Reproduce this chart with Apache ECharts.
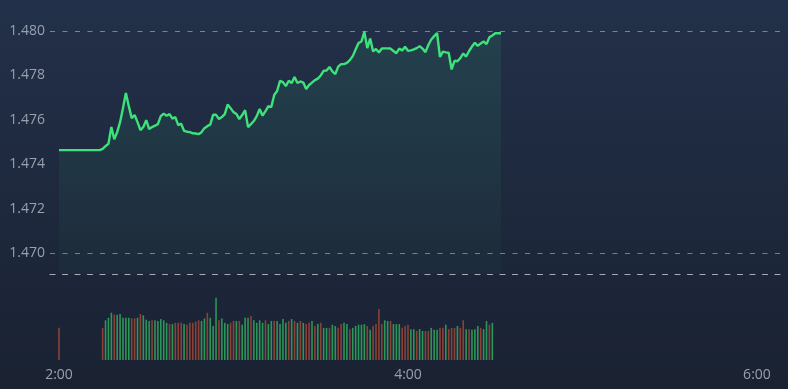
<!DOCTYPE html>
<html>
<head>
<meta charset="utf-8">
<script src="https://cdn.jsdelivr.net/npm/echarts@6/dist/echarts.min.js"></script>
<style>
html,body{margin:0;padding:0;background:#1d2638;}
#chart{width:788px;height:389px;}
</style>
</head>
<body>
<div id="chart"></div>
<script>
// ---- data ----
const startMinute = 120; // 2:00, one point per minute
const prices = [
  1.47464,1.47464,1.47464,1.47464,1.47464,1.47464,1.47464,1.47464,1.47464,1.47464,
  1.47464,1.47464,1.47464,1.47464,1.47464,1.47470,1.47482,1.47493,1.47568,1.47513,
  1.47545,1.47590,1.47653,1.47721,1.47662,1.47608,1.47622,1.47590,1.47554,1.47568,
  1.47599,1.47559,1.47568,1.47574,1.47581,1.47617,1.47628,1.47619,1.47626,1.47606,
  1.47613,1.47577,1.47583,1.47551,1.47547,1.47545,1.47540,1.47539,1.47536,1.47545,
  1.47563,1.47572,1.47579,1.47623,1.47623,1.47604,1.47613,1.47626,1.47669,1.47653,
  1.47635,1.47627,1.47604,1.47622,1.47644,1.47568,1.47581,1.47595,1.47617,1.47649,
  1.47619,1.47640,1.47662,1.47658,1.47712,1.47730,1.47776,1.47770,1.47752,1.47776,
  1.47766,1.47793,1.47766,1.47773,1.47768,1.47739,1.47757,1.47768,1.47779,1.47786,
  1.47800,1.47821,1.47822,1.47838,1.47818,1.47806,1.47840,1.47851,1.47851,1.47857,
  1.47869,1.47887,1.47917,1.47946,1.47953,1.47996,1.47923,1.47966,1.47908,1.47919,
  1.47903,1.47921,1.47922,1.47922,1.47921,1.47910,1.47900,1.47921,1.47912,1.47929,
  1.47911,1.47913,1.47917,1.47923,1.47932,1.47921,1.47905,1.47937,1.47962,1.47977,
  1.47991,1.47883,1.47907,1.47904,1.47902,1.47827,1.47866,1.47864,1.47878,1.47899,
  1.47885,1.47910,1.47930,1.47947,1.47933,1.47944,1.47953,1.47941,1.47972,1.47980,
  1.47990,1.47990,1.47990
];
const volumes = [
  51,null,null,null,null,null,null,null,null,null,
  null,null,null,null,null,51,63,67,75,72,
  72,73,67,67,67,66,66,67,73,71,
  64,62,63,63,62,65,63,59,57,57,
  59,59,59,57,56,59,59,61,63,62,
  66,75,67,54,99,63,66,59,57,59,
  62,62,62,56,67,67,70,63,59,63,
  59,63,57,62,62,62,57,65,59,62,
  65,62,59,62,59,57,59,62,54,57,
  59,51,51,51,56,54,51,57,59,57,
  49,51,54,56,56,57,54,48,54,57,
  81,57,63,62,62,57,57,57,51,54,
  56,49,49,46,49,46,46,46,51,48,
  48,51,51,56,49,51,51,54,51,63,
  49,49,48,49,54,51,49,62,56,59,
  null,null,null
];
// u = up (green), d = down (red), one flag per minute
const volDirs = "d..............duuudu" + "uuuuddudu" + "uuduuuuudu" + "dddudddddu" + "uduuudu" + "uudduduuud" + "uuuudu" + "uduuuudud" + "ududdudud" + "uuduudduud" + "uuuuududdd" + "duuduuuddd" + "uuduudduuu" + "dduddduddu" + "duuuduudu" + "u...";
const yTicks = [1.470, 1.472, 1.474, 1.476, 1.478, 1.480];
const xTicks = [120, 240, 360];

// ---- build ----
const priceData = prices.map((v, i) => [startMinute + i, v]);
const volData = volumes.map((v, i) => ({
  value: [startMinute + i, v],
  itemStyle: { color: volDirs[i] === 'd' ? '#8c4137' : '#2b9659' }
}));
const fmtTime = v => Math.floor(v / 60) + ':' + String(Math.round(v % 60)).padStart(2, '0');

const chart = echarts.init(document.getElementById('chart'));
const xMin = 116.905, xMax = 367.92;
const fontFamily = '"Open Sans", "Noto Sans", sans-serif';
chart.setOption({
  animation: false,
  backgroundColor: new echarts.graphic.LinearGradient(0, 0, 0, 1, [
    { offset: 0, color: '#223049' },
    { offset: 1, color: '#1a2232' }
  ]),
  grid: [
    { left: 50, right: 8, top: 31, bottom: 115 },
    { left: 50, right: 8, top: 297, bottom: 29 }
  ],
  xAxis: [
    {
      type: 'value', gridIndex: 0, min: xMin, max: xMax,
      axisLine: { show: true, lineStyle: { color: 'rgba(220,224,232,0.72)', width: 1.2, type: [5, 7.5] } },
      axisTick: { show: false }, axisLabel: { show: false }, splitLine: { show: false }
    },
    {
      type: 'value', gridIndex: 1, min: xMin, max: xMax,
      axisLine: { show: false }, axisTick: { show: false }, splitLine: { show: false },
      axisLabel: {
        customValues: xTicks, formatter: fmtTime, color: '#9aa1ad',
        fontSize: 14, fontFamily: fontFamily, margin: 8
      }
    }
  ],
  yAxis: [
    {
      type: 'value', gridIndex: 0, min: 1.46907, max: 1.480,
      axisLine: { show: false }, axisTick: { show: false }, splitLine: { show: false },
      axisLabel: {
        customValues: yTicks, formatter: v => v.toFixed(3), color: '#9aa1ad',
        fontSize: 14, fontFamily: fontFamily, margin: 5
      }
    },
    {
      type: 'value', gridIndex: 1, min: 0, max: 100,
      axisLine: { show: false }, axisTick: { show: false }, splitLine: { show: false },
      axisLabel: { show: false }
    }
  ],
  series: [
    {
      type: 'line', xAxisIndex: 0, yAxisIndex: 0, data: priceData,
      showSymbol: false, symbol: 'none',
      lineStyle: { color: '#3de27a', width: 2.4 },
      areaStyle: {
        origin: 'start',
        color: new echarts.graphic.LinearGradient(0, 0, 0, 1, [
          { offset: 0, color: 'rgba(52,200,120,0.17)' },
          { offset: 1, color: 'rgba(52,200,120,0.04)' }
        ])
      },
      markLine: {
        silent: true, symbol: 'none', label: { show: false },
        lineStyle: { color: 'rgba(255,255,255,0.16)', type: [5, 7.5], width: 1.2 },
        data: yTicks.map(v => ({ yAxis: v }))
      },
      z: 3
    },
    {
      type: 'bar', xAxisIndex: 1, yAxisIndex: 1, data: volData,
      barWidth: 1.6, z: 2
    }
  ]
});
</script>
</body>
</html>
